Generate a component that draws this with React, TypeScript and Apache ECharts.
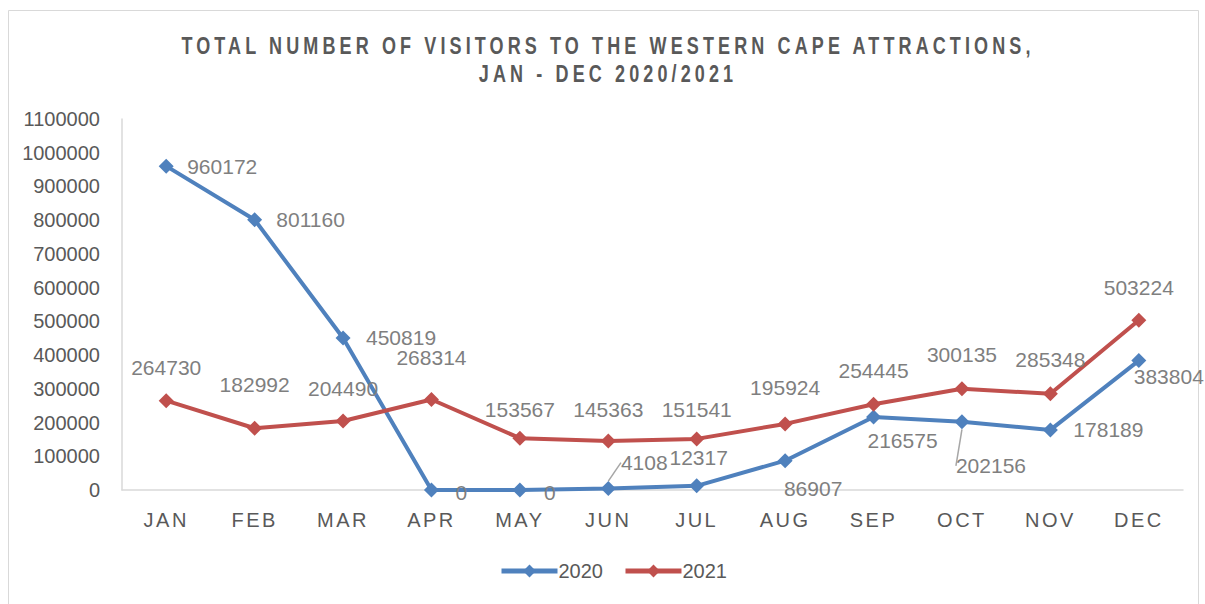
import React, { useEffect, useRef } from "react";
import * as echarts from "echarts";

const months = ["JAN", "FEB", "MAR", "APR", "MAY", "JUN", "JUL", "AUG", "SEP", "OCT", "NOV", "DEC"];
const visitors2020 = [960172, 801160, 450819, 0, 0, 4108, 12317, 86907, 216575, 202156, 178189, 383804];
const visitors2021 = [264730, 182992, 204490, 268314, 153567, 145363, 151541, 195924, 254445, 300135, 285348, 503224];
const titleLines = ["TOTAL NUMBER OF VISITORS TO THE WESTERN CAPE ATTRACTIONS,", "JAN - DEC 2020/2021"];

// label offsets (label centre relative to point), px
const offs2020: [number, number][] = [
  [56, 0], [56, 0], [58, 0], [30, 2], [30, 2], [36, -26], [2, -28], [28, 28], [29, 24], [29, 44], [58, 0], [30, 16],
];
const offs2021: [number, number][] = [
  [0, -33], [0, -44], [0, -33], [0, -42], [0, -29], [0, -31], [0, -29], [0, -36], [0, -34], [0, -34], [0, -34], [0, -33],
];
const leaders2020 = [5, 9];

const css = `
text[style*="Narrow"], text[font-family*="Narrow"] { letter-spacing: 5.5px; }
text[style*="Arimo"], text[font-family*="Arimo"] { letter-spacing: 2.5px; }
`;

export default function App() {
  const ref = useRef<HTMLDivElement>(null);
  useEffect(() => {
    document.body.style.margin = "0";
    const chart = echarts.init(ref.current!, undefined, { renderer: "svg" });
    const labelFont = { fontFamily: "Liberation Sans, Arial, sans-serif", fontSize: 21, color: "#7f7f7f" };
    const mkSeries = (name: string, data: number[], color: string, offs: [number, number][], leaders: number[]) => ({
      name,
      type: "line",
      data: data.map((v, i) => ({
        value: v,
        labelLine: { show: leaders.includes(i) },
      })),
      symbol: "diamond",
      symbolSize: 15,
      lineStyle: { width: 4, color },
      itemStyle: { color },
      label: {
        show: true,
        position: "inside",
        ...labelFont,
      },
      labelLine: { show: false, lineStyle: { color: "#a6a6a6", width: 1.5 } },
      labelLayout: (p: any) => {
        const o = offs[p.dataIndex];
        const r = p.rect;
        return { x: r.x + r.width / 2 + o[0] - p.labelRect.width / 2, y: r.y + r.height / 2 + o[1] - p.labelRect.height / 2 };
      },
    });
    const titleFont = {
      fontFamily: "Liberation Sans Narrow, Liberation Sans, Arial, sans-serif",
      fontSize: 24,
      fontWeight: "bold",
      fill: "#595959",
      textAlign: "center",
      textVerticalAlign: "middle",
    };
    chart.setOption({
      animation: false,
      backgroundColor: "#fff",
      graphic: [
        {
          type: "rect",
          shape: { x: 8.5, y: 10.5, width: 1190, height: 600 },
          style: { fill: "none", stroke: "#d9d9d9", lineWidth: 1 },
          silent: true,
        },
        { type: "text", x: 608, y: 46, scaleX: 0.75, silent: true, style: { text: titleLines[0], ...titleFont } },
        { type: "text", x: 608, y: 74, scaleX: 0.75, silent: true, style: { text: titleLines[1], ...titleFont } },
      ],
      legend: {
        bottom: 18,
        left: 494,
        itemWidth: 56,
        itemHeight: 16,
        itemGap: 20,
        lineStyle: { width: 5 },
        textStyle: { fontFamily: "Liberation Sans, Arial, sans-serif", fontSize: 20, color: "#595959", padding: [0, 0, 0, -4] },
        data: ["2020", "2021"],
      },
      grid: { left: 122, right: 22, top: 119, bottom: 114, containLabel: false },
      xAxis: {
        type: "category",
        data: months,
        boundaryGap: true,
        axisLine: { lineStyle: { color: "#d9d9d9", width: 1.5 } },
        axisTick: { show: false },
        axisLabel: { fontFamily: "Arimo, Liberation Sans, Arial, sans-serif", fontSize: 20, color: "#595959", margin: 20 },
      },
      yAxis: {
        type: "value",
        min: 0,
        max: 1100000,
        interval: 100000,
        axisLine: { show: true, lineStyle: { color: "#d9d9d9", width: 1.5 } },
        axisTick: { show: false },
        splitLine: { show: false },
        axisLabel: {
          fontFamily: "Liberation Sans, Arial, sans-serif",
          fontSize: 20,
          color: "#595959",
          margin: 22,
          formatter: (v: number) => String(v),
        },
      },
      series: [
        mkSeries("2020", visitors2020, "#4f81bd", offs2020, leaders2020),
        mkSeries("2021", visitors2021, "#c0504d", offs2021, []),
      ],
    });
    return () => chart.dispose();
  }, []);
  return (
    <>
      <style>{css}</style>
      <div ref={ref} style={{ position: "absolute", left: 0, top: 0, width: 1205, height: 604 }} />
    </>
  );
}
